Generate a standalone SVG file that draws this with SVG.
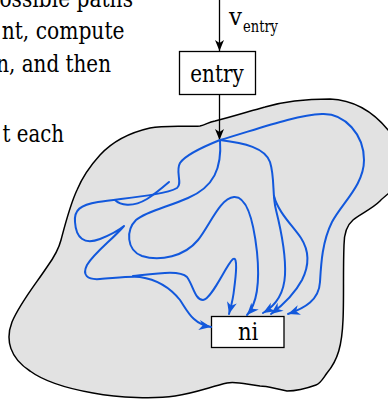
<svg xmlns="http://www.w3.org/2000/svg" width="388" height="400" viewBox="0 0 388 400">
<style>
.t{font-family:"DejaVu Serif",serif;fill:#000}
.body{font-size:25px}
.blue{fill:none;stroke:#1258dc;stroke-width:2;stroke-linecap:round;stroke-linejoin:round;marker-end:url(#ab)}
.bluenm{fill:none;stroke:#1258dc;stroke-width:2;stroke-linecap:round;stroke-linejoin:round}
.black{fill:none;stroke:#000;stroke-width:1.3;marker-end:url(#ak)}
.box{fill:#fff;stroke:#000;stroke-width:1.3}
</style>
<defs>
<marker id="ab" viewBox="-13 -6 14 12" refX="0" refY="0" markerWidth="14" markerHeight="12" markerUnits="userSpaceOnUse" orient="auto">
<path d="M0,0 L-12,-5 L-8.5,0 L-12,5 Z" fill="#1258dc"/>
</marker>
<marker id="ak" viewBox="-13 -6 14 12" refX="0" refY="0" markerWidth="14" markerHeight="12" markerUnits="userSpaceOnUse" orient="auto">
<path d="M0,0 L-11,-4.5 L-8,0 L-11,4.5 Z" fill="#000"/>
</marker>
</defs>
<g id="paragraph" class="t body">
<text x="-0.6" y="7" textLength="133.6" lengthAdjust="spacingAndGlyphs">ossible paths</text>
<text x="1.7" y="38.5" textLength="122.8" lengthAdjust="spacingAndGlyphs">nt, compute</text>
<text x="-3.8" y="72" textLength="114.8" lengthAdjust="spacingAndGlyphs">n, and then</text>
<text x="2.6" y="142" textLength="61.4" lengthAdjust="spacingAndGlyphs">t each</text>
</g>
<g id="region">
<path d="M100,155 C112,142 128,133 150,128 C165,125 185,127 200,126 C206,125 208,122 215,121 C235,116 250,111 265,107 C285,101 305,99 330,99 C355,100 375,112 392,135 L395,188 C388,194 384,197 380,201 C372,209 360,214 353,220 C346,226 344,234 344,245 C343,270 344,300 343,320 C342,345 338,360 327,373 C322,380 320,384 316,385 C305,389 295,391 287,391 C275,389 268,386 260,386 C245,384 235,381 227,383 C210,387 195,393 175,396 C155,399 120,398 93,393 C70,389 45,382 30,371 C10,358 5,340 12,322 C20,303 35,285 47,267 C55,256 59,248 61,240 C65,225 70,205 77,190 C82,178 90,166 100,155 Z" fill="#e2e2e2" stroke="#000" stroke-width="1.5"/>
</g>
<g id="entry">
<rect class="box" x="179.5" y="51.5" width="76" height="43"/>
<text class="t body" x="190.3" y="82" textLength="53.4" lengthAdjust="spacingAndGlyphs">entry</text>
</g>
<g id="ni">
<rect class="box" x="211.5" y="316.5" width="72.5" height="31"/>
<text class="t body" x="238" y="340" textLength="20.4" lengthAdjust="spacingAndGlyphs">ni</text>
</g>
<g id="vlabel" class="t">
<text x="229" y="25" font-size="25" textLength="13" lengthAdjust="spacingAndGlyphs">v</text>
<text x="243" y="32" font-size="16" textLength="35" lengthAdjust="spacingAndGlyphs">entry</text>
</g>
<g id="connectors">
<path class="black" d="M219.5,0 L219.5,51"/>
<path class="black" d="M219.5,94.5 L219.5,140"/>
<path class="blue" d="M220,140 C255,130 295,115 322,114 C345,113 364,135 364,160 C364,185 342,203 332,222 C322,242 321,265 320,282 C319,300 305,308 288,314"/>
<path class="blue" d="M220,140 C245,143 265,148 270,162 C275,178 272,195 276,210 C281,230 286,255 285,275 C284,295 275,306 263,313"/>
<path class="blue" d="M274,196 C278,212 292,225 301,238 C310,252 309,266 302,280 C295,293 283,305 271,314"/>
<path class="blue" d="M220,140 C222,168 214,187 188,198 C168,207 147,211 136,220 C126,230 126,250 142,256 C160,262 185,256 198,240 C210,225 220,198 234,197 C248,196 254,225 257,252 C260,282 257,304 247,315"/>
<path class="blue" d="M220,140 C205,146 186,154 180,163 C175,172 183,183 177,188 C165,195 125,198 98,202 C80,205 74,210 75,222 C76,238 84,245 100,239 C110,235 118,231 124,226 C112,240 95,252 87,265 C82,275 87,280 100,279 C115,278 130,276 140,277 C160,280 172,290 180,300 C188,312 193,324 211,327"/>
<path class="blue" d="M133,276 C160,273 180,270 187,277 C193,285 195,300 203,300 C212,299 226,265 233,259 C238,256 236,275 234,290 C233,300 231,306 229,314"/>
<path class="bluenm" d="M115,200 C120,205 132,208 147,199 C155,194 162,188 169,182"/>
</g>
</svg>
